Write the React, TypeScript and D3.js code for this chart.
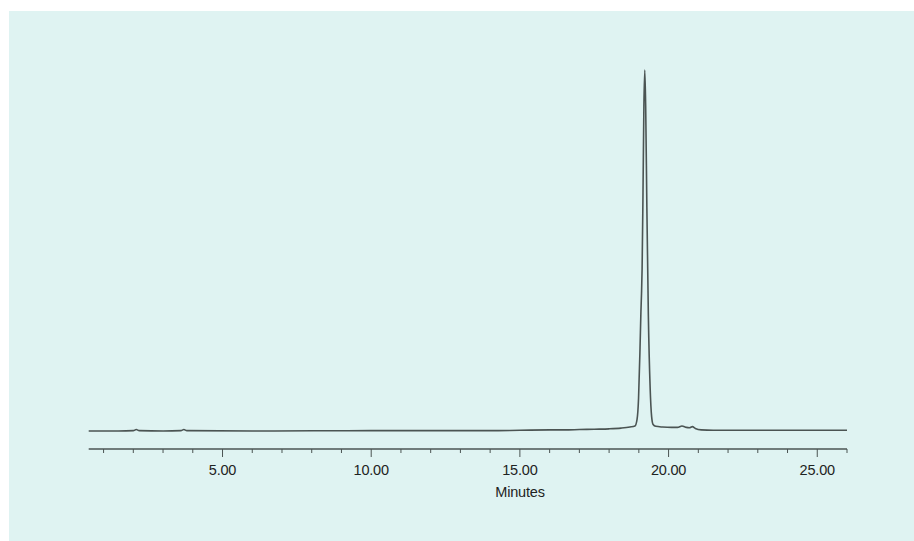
import React from "react";
import * as d3 from "d3";

// Chromatogram trace: retention time (min) and detector response (% of main peak)
const times = [
  0.5, 1.5, 2.0, 2.1, 2.2, 3.0, 3.6, 3.7, 3.8, 6.0, 10.0, 14.0, 15.0, 16.0, 16.5,
  17.0, 17.5, 18.0, 18.4, 18.7, 18.87, 18.94, 18.99, 19.04, 19.07, 19.09, 19.11,
  19.14, 19.17, 19.2, 19.23, 19.27, 19.32, 19.38, 19.43, 19.48, 19.57, 19.8,
  20.1, 20.3, 20.45, 20.6, 20.7, 20.8, 20.9, 21.1, 21.5, 23.0, 26.0,
];
const response = [
  0.0, 0.0, 0.1, 0.4, 0.1, 0.0, 0.1, 0.4, 0.1, 0.0, 0.1, 0.1, 0.2, 0.3, 0.3,
  0.4, 0.5, 0.6, 0.8, 1.1, 1.4, 3.2, 9.0, 23.0, 33.0, 38.0, 45.0,
  66.0, 90.0, 100.0, 90.0, 62.0, 32.0, 12.0, 4.0, 1.8, 1.3, 1.1,
  1.0, 1.0, 1.4, 1.0, 0.9, 1.2, 0.7, 0.3, 0.2, 0.2, 0.2,
];
const majorTicks = [5, 10, 15, 20, 25];
const minorTicks = d3.range(1, 27).filter((t) => t % 5 !== 0);
const xTitle = "Minutes";

export default function App() {
  const W = 914;
  const H = 541;
  const x = d3.scaleLinear().domain([0.5, 26]).range([88.7, 847]);
  const y = d3.scaleLinear().domain([0, 100]).range([431, 70]);
  const data = times.map((t, i) => [t, response[i]] as [number, number]);
  const line = d3
    .line<[number, number]>()
    .x((d) => x(d[0]))
    .y((d) => y(d[1]))
    .curve(d3.curveMonotoneX);
  const axisY = 449;
  const ink = "#4b5453";
  const font = "'Liberation Sans', Arial, sans-serif";
  return (
    <svg
      width={W}
      height={H}
      style={{ position: "absolute", left: 0, top: 0, display: "block" }}
    >
      <rect x={0} y={0} width={W} height={H} fill="#ffffff" />
      <rect x={9} y={11} width={W - 9} height={H - 11} fill="#dff3f2" />
      <path d={line(data) || ""} fill="none" stroke={ink} strokeWidth={1.6} strokeLinejoin="round" />
      <line x1={x(0.5)} x2={x(26)} y1={axisY} y2={axisY} stroke={ink} strokeWidth={1.6} />
      {minorTicks.map((t) => (
        <line key={"m" + t} x1={x(t)} x2={x(t)} y1={axisY} y2={axisY + 4} stroke={ink} strokeWidth={1} />
      ))}
      {majorTicks.map((t) => (
        <g key={"M" + t}>
          <line x1={x(t)} x2={x(t)} y1={axisY} y2={axisY + 8} stroke={ink} strokeWidth={1} />
          <text
            x={x(t)}
            y={475}
            textAnchor="middle"
            fontFamily={font}
            fontSize={14.5}
            letterSpacing={-0.2}
            fill="#1e2323"
          >
            {d3.format(".2f")(t)}
          </text>
        </g>
      ))}
      <text
        x={520}
        y={497}
        textAnchor="middle"
        fontFamily={font}
        fontSize={14.5}
        letterSpacing={-0.2}
        fill="#1e2323"
      >
        {xTitle}
      </text>
    </svg>
  );
}
